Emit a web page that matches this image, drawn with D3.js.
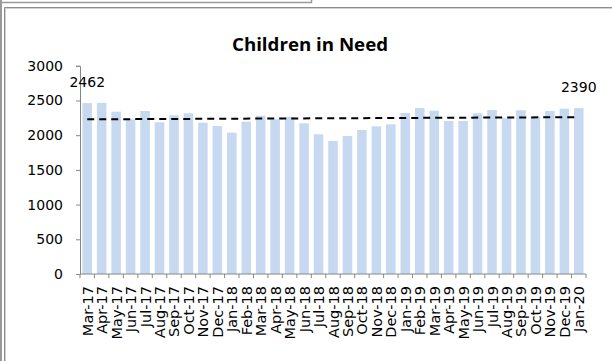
<!DOCTYPE html>
<html>
<head>
<meta charset="utf-8">
<script src="https://cdn.jsdelivr.net/npm/d3@7/dist/d3.min.js"></script>
<style>
  html, body { margin: 0; padding: 0; background: #fff; }
  svg { display: block; }
</style>
</head>
<body>
<svg id="chart" width="612" height="361"></svg>
<script>
// Monthly count of children in need, Mar-17 to Jan-20
const months = [
  "Mar-17","Apr-17","May-17","Jun-17","Jul-17","Aug-17","Sep-17","Oct-17","Nov-17","Dec-17",
  "Jan-18","Feb-18","Mar-18","Apr-18","May-18","Jun-18","Jul-18","Aug-18","Sep-18","Oct-18",
  "Nov-18","Dec-18","Jan-19","Feb-19","Mar-19","Apr-19","May-19","Jun-19","Jul-19","Aug-19",
  "Sep-19","Oct-19","Nov-19","Dec-19","Jan-20"
];
const childrenInNeed = [
  2462, 2466, 2339, 2229, 2349, 2186, 2287, 2316, 2180, 2133,
  2036, 2195, 2281, 2229, 2262, 2171, 2013, 1917, 1989, 2075,
  2128, 2157, 2320, 2392, 2353, 2205, 2205, 2316, 2363, 2243,
  2359, 2267, 2349, 2382, 2390
];
const yTicks = [0, 500, 1000, 1500, 2000, 2500, 3000];
// only the first and last bars carry a value label
const labelledIdx = [0, months.length - 1];

const svg = d3.select("#chart");

// frame lines around the chart object
const frame = svg.append("g").attr("fill", "none");
frame.append("path").attr("d", "M1,0 V361").attr("stroke", "#9a9a9a").attr("stroke-width", 2);
frame.append("path").attr("d", "M0,2.5 H311.5 V0").attr("stroke", "#9a9a9a").attr("stroke-width", 1.5);
frame.append("path").attr("d", "M4.5,361 V7.5 H612").attr("stroke", "#8c8c8c").attr("stroke-width", 1);
frame.append("path").attr("d", "M5.5,361 V8.5 H612").attr("stroke", "#d0d0d0").attr("stroke-width", 1);

const plot = { left: 80, right: 586, top: 65.8, bottom: 274 };

const x = d3.scaleBand()
  .domain(months)
  .range([plot.left, plot.right])
  .paddingInner(0.34)
  .paddingOuter(0.17);

const y = d3.scaleLinear()
  .domain([0, 3000])
  .range([plot.bottom, plot.top]);

// bars
svg.append("g")
  .selectAll("rect")
  .data(months)
  .join("rect")
  .attr("x", (d) => x(d))
  .attr("width", x.bandwidth())
  .attr("y", (d, i) => y(childrenInNeed[i]))
  .attr("height", (d, i) => y(0) - y(childrenInNeed[i]))
  .attr("fill", "#c6d9f1");

// y axis
const yAxis = svg.append("g")
  .attr("transform", `translate(${plot.left},0)`)
  .call(d3.axisLeft(y).tickValues(yTicks).tickFormat(d3.format("d"))
    .tickSize(4).tickSizeOuter(4).tickPadding(13));
yAxis.select(".domain").attr("stroke", "#868686");
yAxis.selectAll(".tick line").attr("stroke", "#868686");
yAxis.selectAll(".tick text")
  .attr("fill", "#000")
  .style("font-family", "'DejaVu Sans', sans-serif")
  .style("font-size", "14px");

// x axis: line plus tick marks on the category boundaries
const xAxis = svg.append("g");
xAxis.append("line")
  .attr("x1", plot.left).attr("x2", plot.right)
  .attr("y1", y(0)).attr("y2", y(0))
  .attr("stroke", "#868686");
const step = x.step();
const boundaries = d3.range(months.length + 1).map((k) => x.range()[0] + k * step);
xAxis.selectAll("line.tk")
  .data(boundaries)
  .join("line")
  .attr("class", "tk")
  .attr("x1", (d) => d).attr("x2", (d) => d)
  .attr("y1", y(0)).attr("y2", y(0) + 4)
  .attr("stroke", "#868686");

xAxis.selectAll("text")
  .data(months)
  .join("text")
  .attr("transform", (d) => `translate(${x(d) + x.bandwidth() / 2 + 5.5},${y(0) + 12}) rotate(-90)`)
  .attr("text-anchor", "end")
  .style("font-family", "'DejaVu Sans', sans-serif")
  .style("font-size", "14.5px")
  .attr("fill", "#000")
  .text((d) => d);

// linear trend line (least squares over month index)
const n = childrenInNeed.length;
const idx = d3.range(n);
const mx = d3.mean(idx), my = d3.mean(childrenInNeed);
const slope = d3.sum(idx, (i) => (i - mx) * (childrenInNeed[i] - my)) / d3.sum(idx, (i) => (i - mx) ** 2);
const intercept = my - slope * mx;
const trend = idx.map((i) => ({ m: months[i], v: intercept + slope * i }));
svg.append("path")
  .datum([trend[0], trend[n - 1]])
  .attr("d", d3.line().x((d) => x(d.m) + x.bandwidth() / 2).y((d) => y(d.v)))
  .attr("fill", "none")
  .attr("stroke", "#000")
  .attr("stroke-width", 2)
  .attr("stroke-dasharray", "7,5");

// value labels
svg.append("g")
  .selectAll("text")
  .data(labelledIdx)
  .join("text")
  .attr("x", (i) => x(months[i]) + x.bandwidth() / 2)
  .attr("y", (i) => y(childrenInNeed[i]) - 16.5)
  .attr("text-anchor", "middle")
  .style("font-family", "'DejaVu Sans', sans-serif")
  .style("font-size", "14px")
  .attr("fill", "#000")
  .text((i) => childrenInNeed[i]);

// title
svg.append("text")
  .attr("transform", "translate(310,51) scale(1.1,1)")
  .attr("text-anchor", "middle")
  .style("font-family", "'Open Sans', sans-serif")
  .style("font-weight", "bold")
  .style("font-size", "17px")
  .attr("fill", "#000")
  .text("Children in Need");
</script>
</body>
</html>
